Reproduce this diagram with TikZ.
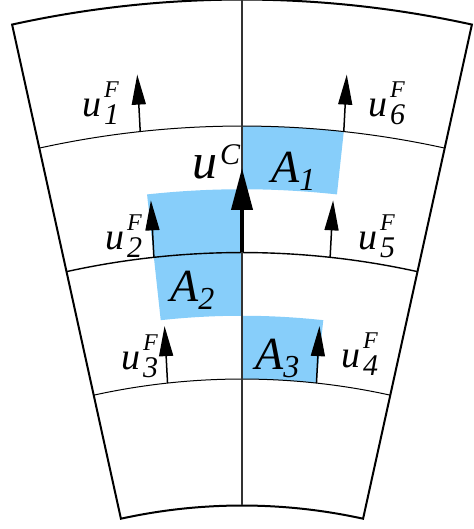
\documentclass[tikz,border=0pt]{standalone}
\usepackage{amsmath}
\usepackage{fontspec}
\setmainfont{Liberation Serif}
\usepackage{tikz}
\usetikzlibrary{arrows.meta,calc}
\definecolor{cellblue}{RGB}{135,206,250}

% face velocity, control velocity and area labels
\newcommand\uface[1]{\textit{u}\kern3pt\rlap{\raisebox{19pt}{\fontsize{24}{24}\selectfont\textit{F}}}%
  \raisebox{-8pt}{\fontsize{30}{30}\selectfont\textit{#1}}}
\newcommand\ucell{\textit{u}\kern3pt\raisebox{14pt}{\fontsize{30}{30}\selectfont\textit{C}}}
\newcommand\area[1]{\textit{A}\raisebox{-8pt}{\fontsize{32}{32}\selectfont\textit{#1}}}

\begin{document}
\begin{tikzpicture}[x=1pt, y=1pt,
  rim/.style={line width=2pt, line join=miter},
  flux/.style={-{Triangle[length=30pt,width=14pt]}, line width=1.5pt},
  bigflux/.style={-{Triangle[length=42pt,width=21pt]}, line width=4pt},
  lab/.style={inner sep=0pt, anchor=base west, font=\fontsize{38}{42}\selectfont},
  clab/.style={inner sep=0pt, anchor=base west, font=\fontsize{50}{54}\selectfont},
  alab/.style={inner sep=0pt, anchor=base west, font=\fontsize{46}{50}\selectfont}]
\useasboundingbox (0,0) rectangle (473,529);
\coordinate (O) at (242,-539.5);
% --- shaded areas ---
\fill[cellblue] ($(O)+(83.8:879.25)$) arc[start angle=83.8, end angle=90, radius=879.25]
  -- ($(O)+(90:942.5)$) arc[start angle=90, end angle=83.8, radius=942.5] -- cycle;
\fill[cellblue] ($(O)+(90:752.75)$) arc[start angle=90, end angle=96.2, radius=752.75]
  -- ($(O)+(96.2:879.25)$) arc[start angle=96.2, end angle=90, radius=879.25] -- cycle;
\fill[cellblue] ($(O)+(83.8:689.5)$) arc[start angle=83.8, end angle=90, radius=689.5]
  -- ($(O)+(90:752.75)$) arc[start angle=90, end angle=83.8, radius=752.75] -- cycle;
% --- sector outline and cell faces ---
\draw[rim] ($(O)+(102.42:1069)$) arc[start angle=102.42, end angle=77.58, radius=1069]
  -- ($(O)+(77.58:563)$) arc[start angle=77.58, end angle=102.42, radius=563] -- cycle;
\foreach \r/\w in {942.5/1pt, 816/1.4pt, 689.5/1pt}
  \draw[line width=\w] ($(O)+(102.42:\r)$) arc[start angle=102.42, end angle=77.58, radius=\r];
\coordinate (top) at ($(O)+(90:1069)$);
\coordinate (bot) at ($(O)+(90:563)$);
\draw[black!80, line width=1.2pt] (top) -- (bot);
% --- face velocities ---
\foreach \n/\a/\r/\d in {1/96.2/942.5/93, 2/96.2/816/93, 3/96.2/689.5/93,
                         4/83.8/689.5/87, 5/83.8/816/87, 6/83.8/942.5/87} {
  \coordinate (b\n) at ($(O)+(\a:\r)$);
  \coordinate (t\n) at ($(b\n)+(\d:57)$);
  \draw[flux] (b\n) -- (t\n);
}
\coordinate (bC) at ($(O)+(90:816)$);
\coordinate (tC) at ($(O)+(90:900.5)$);
\draw[bigflux] (bC) -- (tC);
% --- labels ---
\node[lab] (lu1) at (82,412) {\uface{1}};
\node[lab] (lu2) at (105,279) {\uface{2}};
\node[lab] (lu3) at (121,159) {\uface{3}};
\node[lab] (lu4) at (341,161) {\uface{4}};
\node[lab] (lu5) at (358,279) {\uface{5}};
\node[lab] (lu6) at (368,412) {\uface{6}};
\node[clab] (luC) at (192,350) {\ucell};
\node[alab] (lA1) at (271,346) {\area{1}};
\node[alab] (lA2) at (170,227) {\area{2}};
\node[alab] (lA3) at (255,159) {\area{3}};
\end{tikzpicture}
\end{document}
